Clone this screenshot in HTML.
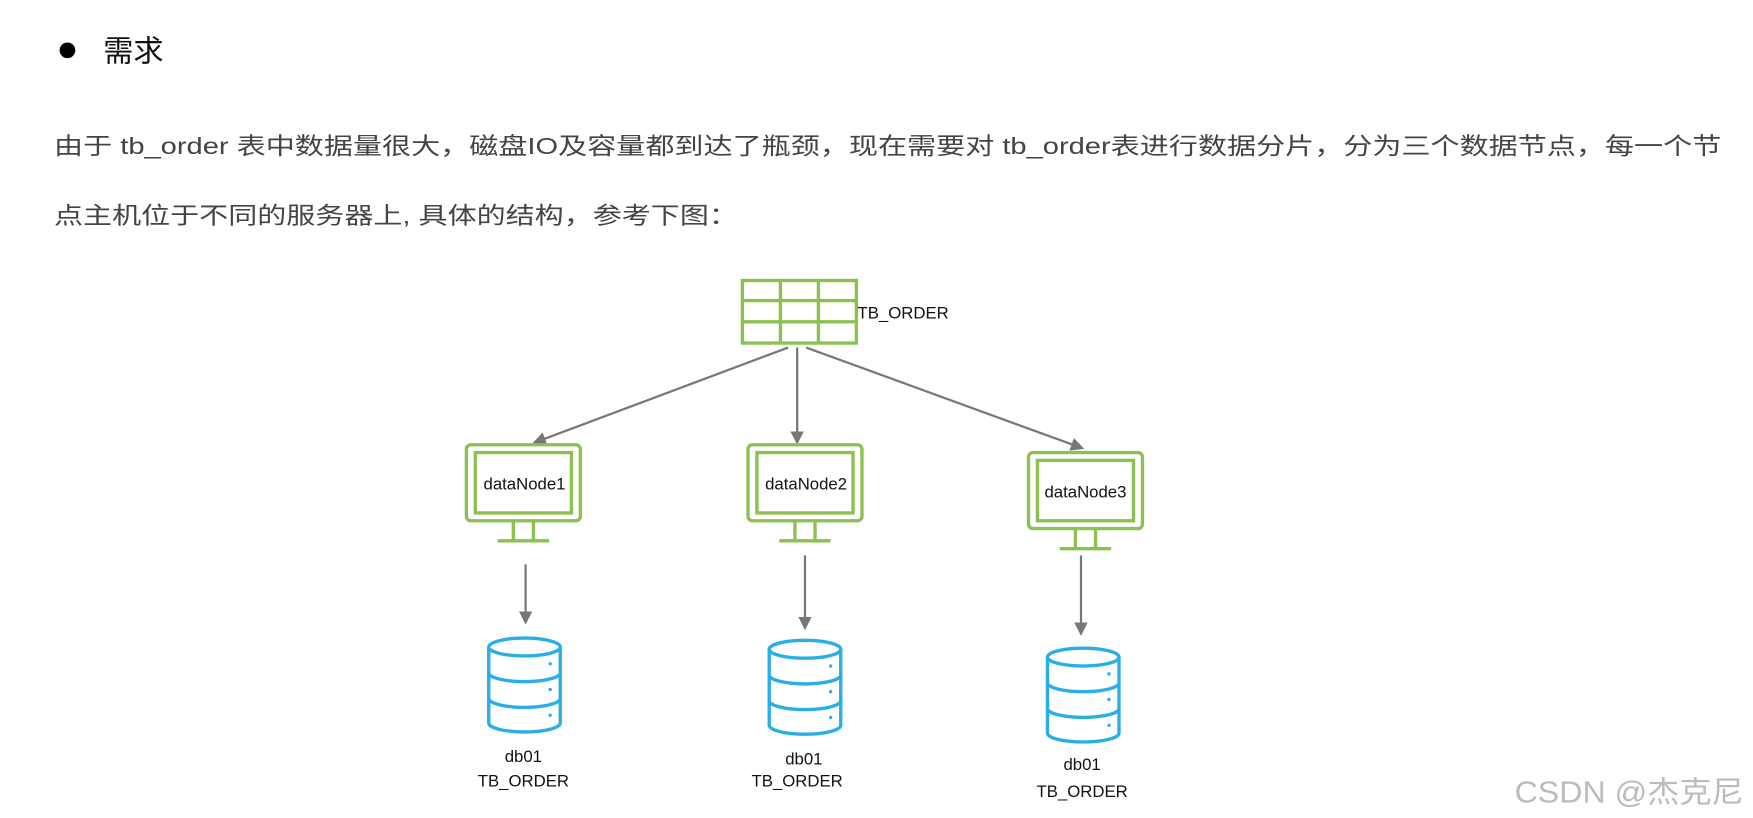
<!DOCTYPE html>
<html><head><meta charset="utf-8"><style>
html,body{margin:0;padding:0;background:#fff;}
svg{display:block;}
</style></head><body>
<svg width="1753" height="818" viewBox="0 0 1568 732" xmlns="http://www.w3.org/2000/svg" font-family="Liberation Sans, Noto Sans CJK SC, sans-serif">
<defs>
<marker id="ah" markerWidth="12" markerHeight="12" refX="10" refY="6" orient="auto" markerUnits="userSpaceOnUse">
<path d="M0,0 L12,6 L0,12 z" fill="#777"/>
</marker>
<g id="mon">
<rect x="2" y="2" width="102" height="68" rx="4" fill="#fff" stroke="#8cc152" stroke-width="3"/>
<rect x="10" y="9" width="86" height="54" fill="#fff" stroke="#8cc152" stroke-width="3"/>
<line x1="44" y1="70" x2="44" y2="88" stroke="#8cc152" stroke-width="3"/>
<line x1="62" y1="70" x2="62" y2="88" stroke="#8cc152" stroke-width="3"/>
<line x1="30" y1="88" x2="76" y2="88" stroke="#8cc152" stroke-width="3"/>
</g>
<g id="db" fill="none" stroke="#29aee6" stroke-width="3">
<ellipse cx="33" cy="9" rx="32" ry="8" fill="#fff"/>
<path d="M1,9 V77 A32,8 0 0 0 65,77 V9"/>
<path d="M1,32 A32,8 0 0 0 65,32"/>
<path d="M1,55 A32,8 0 0 0 65,55"/>
<circle cx="56" cy="24" r="1.5" fill="#29aee6" stroke="none"/>
<circle cx="56" cy="47" r="1.5" fill="#29aee6" stroke="none"/>
<circle cx="56" cy="70" r="1.5" fill="#29aee6" stroke="none"/>
</g>
</defs>
<circle cx="60" cy="45" r="7" fill="#000"/>
<text x="92" y="55" font-size="27" fill="#111">需求</text>
<text x="48" y="138" font-size="21" fill="#444" textLength="1492" lengthAdjust="spacingAndGlyphs">由于 tb_order 表中数据量很大，磁盘IO及容量都到达了瓶颈，现在需要对 tb_order表进行数据分片，分为三个数据节点，每一个节</text>
<text x="48" y="200" font-size="21" fill="#444" textLength="612" lengthAdjust="spacingAndGlyphs">点主机位于不同的服务器上, 具体的结构，参考下图：</text>

<g stroke="#8cc152" stroke-width="3" fill="none">
<rect x="664" y="251" width="102" height="56"/>
<line x1="664" y1="269" x2="766" y2="269"/>
<line x1="664" y1="288" x2="766" y2="288"/>
<line x1="698" y1="251" x2="698" y2="307"/>
<line x1="732" y1="251" x2="732" y2="307"/>
</g>
<text x="767" y="285" font-size="15" fill="#111">TB_ORDER</text>

<g stroke="#777" stroke-width="2" fill="none" marker-end="url(#ah)">
<line x1="705" y1="311" x2="478" y2="396"/>
<line x1="713" y1="311" x2="713" y2="396"/>
<line x1="721" y1="311" x2="968" y2="401"/>
<line x1="470" y1="505" x2="470" y2="557"/>
<line x1="720" y1="497" x2="720" y2="562"/>
<line x1="967" y1="497" x2="967" y2="567"/>
</g>

<use href="#mon" x="415" y="396"/>
<use href="#mon" x="667" y="396"/>
<use href="#mon" x="918" y="403"/>
<text x="469" y="438" font-size="15" fill="#111" text-anchor="middle">dataNode1</text>
<text x="721" y="438" font-size="15" fill="#111" text-anchor="middle">dataNode2</text>
<text x="971" y="445" font-size="15" fill="#111" text-anchor="middle">dataNode3</text>

<use href="#db" x="436" y="570"/>
<use href="#db" x="687" y="572"/>
<use href="#db" x="936" y="579"/>

<g font-size="15" fill="#111" text-anchor="middle">
<text x="468" y="682">db01</text>
<text x="468" y="704">TB_ORDER</text>
<text x="719" y="684">db01</text>
<text x="713" y="704">TB_ORDER</text>
<text x="968" y="689">db01</text>
<text x="968" y="713">TB_ORDER</text>
</g>
<text x="1355" y="718" font-size="27" fill="#bbb" textLength="205" lengthAdjust="spacingAndGlyphs">CSDN @杰克尼</text>
</svg>
</body></html>
